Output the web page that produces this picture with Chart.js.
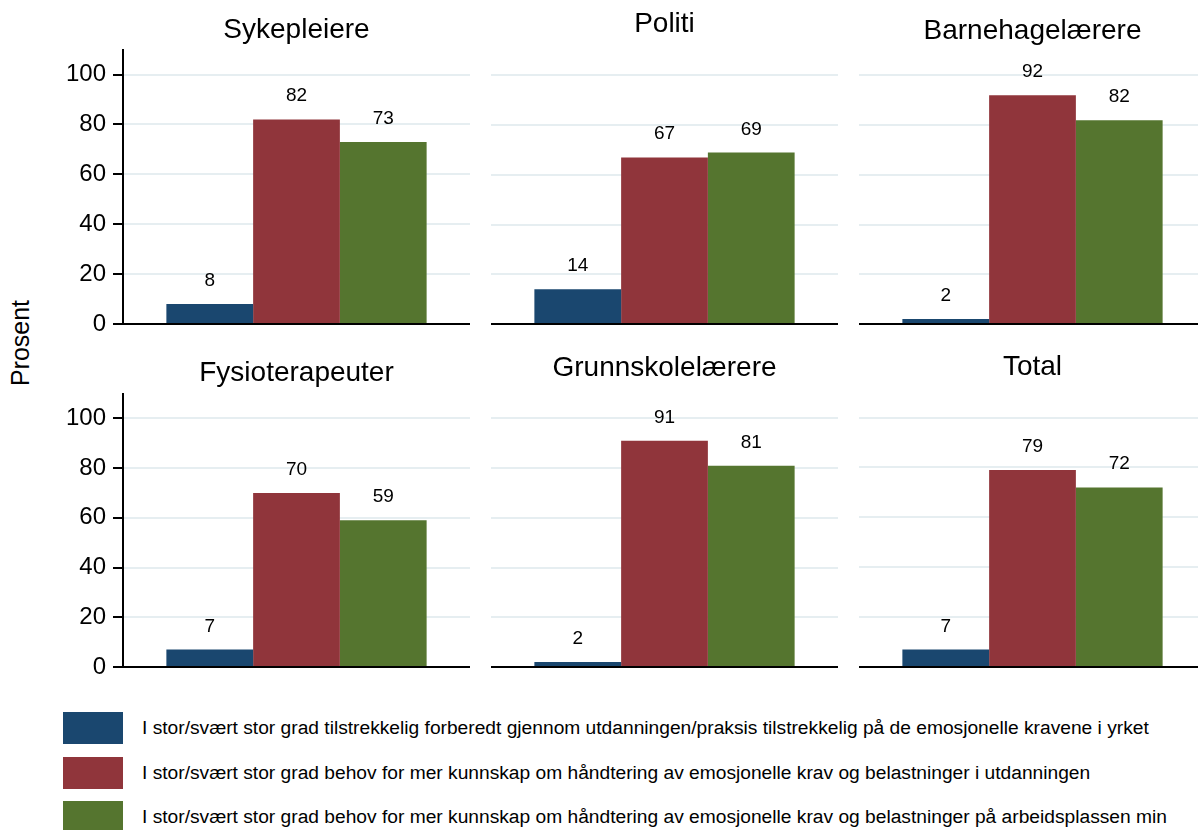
<!DOCTYPE html>
<html>
<head>
<meta charset="utf-8">
<script src="https://cdn.jsdelivr.net/npm/chart.js@4.4.1/dist/chart.umd.min.js"></script>
<style>
  body { margin: 0; background: #fff; width: 1198px; height: 830px; overflow: hidden; position: relative;
         font-family: "Liberation Sans", Arial, sans-serif; color: #000; }
  canvas { position: absolute; }
  #ytitle { position: absolute; left: -80px; top: 328px; width: 200px; line-height: 30px; text-align: center;
            font-size: 25px; transform: rotate(-90deg); }
  .lg { position: absolute; left: 63px; height: 32px; white-space: nowrap; }
  .lg span.sw { position: absolute; left: 0; top: 0; width: 60px; height: 32px; }
  .lg span.tx { position: absolute; left: 79px; top: 0; line-height: 32px; font-size: 19.2px; }
</style>
</head>
<body>
<div id="ytitle">Prosent</div>
<div id="legend"></div>
<script>
// data
var panels = ['Sykepleiere', 'Politi', 'Barnehagelærere', 'Fysioterapeuter', 'Grunnskolelærere', 'Total'];
var forberedt = [8, 14, 2, 7, 2, 7];
var behovUtdanning = [82, 67, 92, 70, 91, 79];
var behovArbeidsplass = [73, 69, 82, 59, 81, 72];
var seriesNames = [
    'I stor/svært stor grad tilstrekkelig forberedt gjennom utdanningen/praksis tilstrekkelig på de emosjonelle kravene i yrket',
    'I stor/svært stor grad behov for mer kunnskap om håndtering av emosjonelle krav og belastninger i utdanningen',
    'I stor/svært stor grad behov for mer kunnskap om håndtering av emosjonelle krav og belastninger på arbeidsplassen min'
];
var yTicks = [0, 20, 40, 60, 80, 100];

// look
var colors = ['#1a476f', '#90353b', '#55752f'];
var FONT = '"Liberation Sans", Arial, sans-serif';
var rowTop = [0, 343];
var colLeft = [123, 491, 859];
var plotW = 347, axisW = 63, canvasH = 334;
var titlePad = [[13, 3], [7, 10], [14, 3], [13, 4], [8, 9], [7, 9]];

var barLabels = {
    id: 'barLabels',
    afterDatasetsDraw: function (chart) {
        var ctx = chart.ctx;
        ctx.save();
        ctx.font = '19px ' + FONT;
        ctx.fillStyle = '#000';
        ctx.textAlign = 'center';
        ctx.textBaseline = 'alphabetic';
        chart.data.datasets.forEach(function (ds, i) {
            chart.getDatasetMeta(i).data.forEach(function (bar, j) {
                ctx.fillText(String(Math.round(ds.data[j])), bar.x, bar.y - 18);
            });
        });
        ctx.restore();
    }
};

var series = [forberedt, behovUtdanning, behovArbeidsplass];

panels.forEach(function (name, p) {
    var row = Math.floor(p / 3), col = p % 3;
    var withAxis = col === 0;
    var cv = document.createElement('canvas');
    var w = plotW + (withAxis ? axisW : 0);
    cv.width = w;
    cv.height = canvasH;
    cv.style.left = (colLeft[col] - (withAxis ? axisW : 0)) + 'px';
    cv.style.top = rowTop[row] + 'px';
    document.body.appendChild(cv);

    new Chart(cv.getContext('2d'), {
        type: 'bar',
        data: {
            labels: [name],
            datasets: series.map(function (s, i) {
                return {
                    label: seriesNames[i],
                    data: [s[p]],
                    backgroundColor: colors[i],
                    borderWidth: 0,
                    categoryPercentage: 0.75,
                    barPercentage: 1
                };
            })
        },
        options: {
            responsive: false,
            animation: false,
            events: [],
            layout: { padding: 0 },
            plugins: {
                legend: { display: false },
                tooltip: { enabled: false },
                title: {
                    display: true,
                    text: name,
                    fullSize: false,
                    color: '#000',
                    font: { family: FONT, size: 28, weight: 'normal', lineHeight: 1.2 },
                    padding: { top: titlePad[p][0], bottom: titlePad[p][1] }
                }
            },
            scales: {
                x: {
                    ticks: { display: false },
                    grid: { display: false, drawTicks: false },
                    border: { display: true, color: '#000', width: 2 },
                    afterFit: function (s) { s.height = 10; s.paddingLeft = 0; s.paddingRight = 0; }
                },
                y: {
                    min: 0,
                    max: 110,
                    afterBuildTicks: function (s) {
                        s.ticks = yTicks.map(function (v) { return { value: v }; });
                    },
                    ticks: {
                        display: withAxis,
                        color: '#000',
                        padding: 7,
                        font: { family: FONT, size: 24 }
                    },
                    grid: {
                        color: '#e6eef1',
                        lineWidth: 2,
                        drawTicks: withAxis,
                        tickLength: 10,
                        tickColor: '#000',
                        tickWidth: 2
                    },
                    border: { display: withAxis, color: '#000', width: 2 },
                    afterFit: function (s) {
                        s.width = withAxis ? axisW : 0;
                        s.paddingTop = 0;
                        s.paddingBottom = 0;
                    }
                }
            }
        },
        plugins: [barLabels]
    });
});

// legend
var lgTops = [712, 757, 801];
var legend = document.getElementById('legend');
seriesNames.forEach(function (txt, i) {
    var d = document.createElement('div');
    d.className = 'lg';
    d.style.top = lgTops[i] + 'px';
    var sw = document.createElement('span');
    sw.className = 'sw';
    sw.style.background = colors[i];
    var tx = document.createElement('span');
    tx.className = 'tx';
    tx.textContent = txt;
    d.appendChild(sw);
    d.appendChild(tx);
    legend.appendChild(d);
});
</script>
</body>
</html>
